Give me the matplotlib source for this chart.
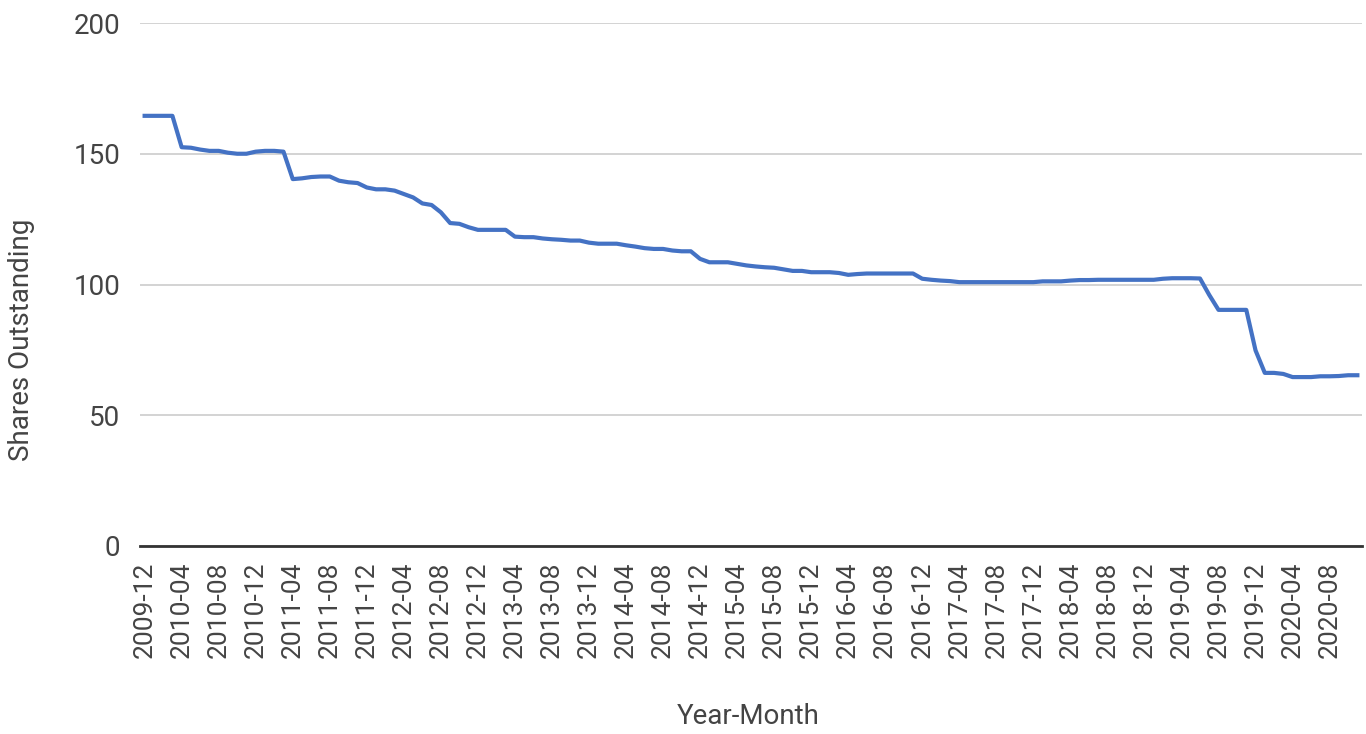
import matplotlib
matplotlib.use("Agg")
import matplotlib.pyplot as plt
import pandas as pd

# Shares outstanding (millions), monthly from 2009-12
shares = [
    164.5, 164.5, 164.5, 164.5, 152.5, 152.3, 151.6, 151.1, 151.1, 150.4,
    150.0, 150.0, 150.8, 151.1, 151.1, 150.8, 140.3, 140.6, 141.1, 141.3,
    141.3, 139.7, 139.1, 138.8, 137.1, 136.4, 136.4, 135.9, 134.6, 133.3,
    131.0, 130.4, 127.6, 123.5, 123.2, 121.9, 120.9, 120.9, 120.9, 120.9,
    118.3, 118.1, 118.1, 117.6, 117.3, 117.1, 116.8, 116.8, 116.0, 115.6,
    115.6, 115.6, 115.0, 114.5, 113.9, 113.6, 113.6, 113.0, 112.7, 112.7,
    109.8, 108.5, 108.5, 108.5, 107.9, 107.3, 106.9, 106.6, 106.4, 105.8,
    105.2, 105.2, 104.7, 104.7, 104.7, 104.4, 103.7, 104.0, 104.2, 104.2,
    104.2, 104.2, 104.2, 104.2, 102.2, 101.8, 101.5, 101.3, 100.9, 100.9,
    100.9, 100.9, 100.9, 100.9, 100.9, 100.9, 100.9, 101.2, 101.2, 101.2,
    101.5, 101.7, 101.7, 101.8, 101.8, 101.8, 101.8, 101.8, 101.8, 101.8,
    102.2, 102.4, 102.4, 102.4, 102.3, 96.0, 90.3, 90.3, 90.3, 90.3,
    74.8, 66.2, 66.2, 65.8, 64.6, 64.6, 64.6, 64.9, 64.9, 65.0,
    65.3, 65.3,
]
months = list(pd.date_range("2009-12-01", periods=len(shares), freq="MS").strftime("%Y-%m"))
y_ticks = [0, 50, 100, 150, 200]
x_label = "Year-Month"
y_label = "Shares Outstanding"

plt.rcParams["font.family"] = ["Roboto", "DejaVu Sans"]
text_color = "#444444"

fig = plt.figure(figsize=(13.66, 7.34), dpi=100)
W, H = 1366, 734
ax = fig.add_axes([140 / W, 1 - 546 / H, (1362 - 140) / W, (546 - 23) / H])

x = list(range(len(shares)))
ax.plot(x, shares, color="#4472C4", linewidth=3.0, solid_joinstyle="round", zorder=3)

ax.set_xlim(-0.5, len(shares) - 0.5)
ax.set_ylim(0, 200)
ax.set_yticks(y_ticks)
ax.set_yticklabels([str(v) for v in y_ticks], fontsize=20, color=text_color)
tick_idx = x[::4]
ax.set_xticks(tick_idx)
ax.set_xticklabels([months[i] for i in tick_idx], rotation=90, fontsize=19, color=text_color)
ax.tick_params(axis="both", length=0)
ax.tick_params(axis="y", pad=14)
ax.tick_params(axis="x", pad=11)

ax.grid(axis="y", color="#cccccc", linewidth=1.2)
ax.set_axisbelow(True)
for s in ["top", "right", "left"]:
    ax.spines[s].set_visible(False)
ax.spines["bottom"].set_color("#333333")
ax.spines["bottom"].set_linewidth(2)
ax.spines["bottom"].set_zorder(4)

fig.text(22 / W, 1 - 340 / H, y_label, rotation=90, ha="center", va="center",
         fontsize=20, color=text_color)
fig.text(748 / W, 1 - 717 / H, x_label, ha="center", va="center",
         fontsize=20, color=text_color)

fig.savefig("out.png", dpi=100, facecolor="white")
